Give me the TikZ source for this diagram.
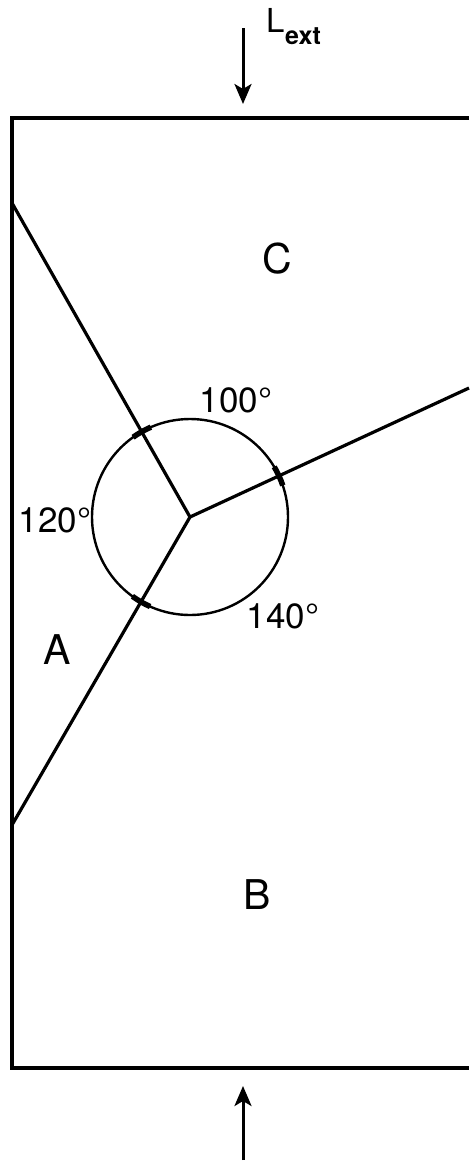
\documentclass[tikz,border=0pt]{standalone}
\usepackage{fontspec}
\setmainfont{TeX Gyre Heros}
\usetikzlibrary{arrows.meta,calc}
\begin{document}
\begin{tikzpicture}[x=1pt,y=-1pt,
  edge/.style={line width=3.4pt},
  grain/.style={line width=3.2pt},
  ring/.style={line width=2.4pt},
  tick/.style={line width=5.5pt},
  load/.style={line width=3pt,-{Stealth[length=20pt,width=17pt,inset=5pt]}},
  lbl/.style={font=\fontsize{41}{43}\selectfont,inner sep=0pt},
  ang/.style={font=\fontsize{35}{37}\selectfont,inner sep=0pt}]
\useasboundingbox (0,0) rectangle (469,1163);
% box
\coordinate (tr) at (469,118);
\coordinate (tl) at (12,118);
\coordinate (bl) at (12,1068);
\coordinate (br) at (469,1068);
\draw[edge] (tr) -- (tl) -- (bl) -- (br);
% grain boundaries
\coordinate (J) at (190,517);
\coordinate (pU) at (12,203);
\coordinate (pR) at (469,388);
\coordinate (pL) at (12,825);
\draw[grain] (J) -- (pU);
\draw[grain] (J) -- (pR);
\draw[grain] (J) -- (pL);
% circle
\draw[ring] (J) circle[radius=98];
% tick marks
\foreach \a in {119.5,24.8,240} {
  \draw[tick] ($(J)+({98*cos(\a+6)},{-98*sin(\a+6)})$) arc[start angle={-(\a+6)},end angle={-(\a-6)},radius=98];
}
% loads
\coordinate (a1s) at (243,28);
\coordinate (a1e) at (243,104);
\coordinate (a2s) at (243,1160);
\coordinate (a2e) at (243,1086);
\draw[load] (a1s) -- (a1e);
\draw[load] (a2s) -- (a2e);
\node[anchor=base west,inner sep=0pt,font=\fontsize{33}{35}\selectfont] (Lt) at (266,32) {L};
\node[anchor=base west,inner sep=0pt,font=\fontsize{25}{27}\selectfont\bfseries] (ext) at (285,44) {ext};
% labels
\node[lbl] (C) at (277,259) {C};
\node[lbl] (A) at (57,650) {A};
\node[lbl] (B) at (257,895) {B};
\node[ang] (a100) at (236,400) {100°};
\node[ang] (a120) at (55,520) {120°};
\node[ang] (a140) at (283,616) {140°};
\end{tikzpicture}
\end{document}
